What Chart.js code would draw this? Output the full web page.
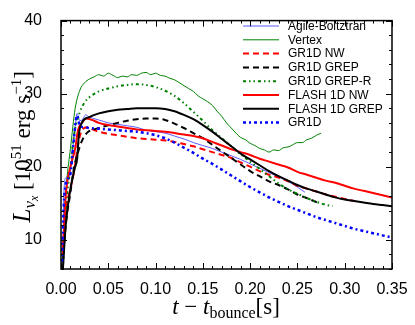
<!DOCTYPE html>
<html>
<head>
<meta charset="utf-8">
<script src="https://cdn.jsdelivr.net/npm/chart.js@4"></script>
<style>
    html, body { margin: 0; padding: 0; background: #fff; }
    #wrap { width: 415px; height: 325px; }
</style>
</head>
<body>
<div id="wrap"><canvas id="lumChart" width="415" height="325"></canvas></div>
<script>
// Axis ticks
const xTicks = [0, 0.05, 0.10, 0.15, 0.20, 0.25, 0.30, 0.35];
const yTicks = [10, 20, 30, 40];

// Agile-Boltztran
const tAgile = [0.002, 0.003, 0.005, 0.009, 0.012, 0.015, 0.017, 0.020, 0.023, 0.026, 0.030, 0.040, 0.050, 0.060, 0.070, 0.080, 0.090, 0.100, 0.110, 0.120, 0.130, 0.140, 0.150, 0.160, 0.170, 0.180, 0.190, 0.200, 0.210, 0.220, 0.230, 0.240, 0.250, 0.258];
const lAgile = [7, 16, 18.5, 18.8, 22, 25.5, 27.3, 26.3, 26.5, 27.1, 26.8, 26.4, 26.0, 25.8, 25.6, 25.4, 25.0, 24.8, 24.6, 24.2, 23.8, 23.3, 22.9, 22.5, 22.0, 21.5, 21.0, 20.4, 19.8, 19.2, 18.6, 18.0, 17.2, 16.5];

// Vertex
const tVertex = [0.002, 0.004, 0.006, 0.010, 0.015, 0.020, 0.025, 0.030, 0.035, 0.040, 0.045, 0.050, 0.055, 0.060, 0.065, 0.070, 0.075, 0.080, 0.085, 0.090, 0.095, 0.100, 0.105, 0.110, 0.115, 0.120, 0.125, 0.130, 0.135, 0.140, 0.145, 0.150, 0.155, 0.160, 0.165, 0.170, 0.175, 0.180, 0.185, 0.190, 0.195, 0.200, 0.205, 0.210, 0.215, 0.220, 0.225, 0.230, 0.235, 0.240, 0.245, 0.250, 0.255, 0.260, 0.265, 0.270, 0.275];
const lVertex = [6, 14, 18, 22.5, 28, 30.5, 31.5, 32.0, 32.3, 32.6, 32.4, 32.8, 32.5, 32.2, 32.4, 32.3, 32.6, 32.5, 32.8, 32.9, 32.6, 32.8, 32.5, 32.4, 32.1, 31.9, 31.5, 31.1, 30.7, 30.3, 29.7, 29.3, 28.9, 28.4, 27.6, 26.9, 26.0, 25.3, 24.6, 24.0, 23.7, 23.2, 22.9, 22.5, 22.3, 22.0, 22.3, 22.2, 22.6, 22.7, 23.0, 23.3, 23.3, 23.7, 23.9, 24.3, 24.6];

// GR1D NW
const tGr1dNw = [0.002, 0.005, 0.010, 0.014, 0.018, 0.022, 0.028, 0.035, 0.040, 0.050, 0.060, 0.070, 0.080, 0.090, 0.100, 0.110, 0.120, 0.130, 0.140, 0.150, 0.160, 0.170, 0.180, 0.190, 0.200, 0.210, 0.220, 0.230, 0.240, 0.250, 0.260, 0.270, 0.280, 0.290, 0.300, 0.310];
const lGr1dNw = [9, 14, 17, 19.5, 23, 25, 25.4, 25.0, 24.8, 24.5, 24.3, 24.1, 23.9, 23.8, 23.7, 23.6, 23.4, 23.1, 22.8, 22.4, 22.0, 21.6, 21.2, 20.6, 20.0, 19.4, 18.9, 18.5, 18.0, 17.4, 17.0, 16.6, 16.2, 15.9, 15.6, 15.3];

// GR1D GREP
const tGr1dGrep = [0.002, 0.005, 0.010, 0.014, 0.018, 0.022, 0.028, 0.035, 0.045, 0.060, 0.070, 0.080, 0.090, 0.100, 0.110, 0.120, 0.130, 0.140, 0.150, 0.160, 0.170, 0.180, 0.190, 0.200, 0.210, 0.220, 0.230, 0.240, 0.250, 0.260, 0.273];
const lGr1dGrep = [7, 12, 16.5, 20, 22, 23.5, 24.7, 25.1, 25.5, 26.0, 26.3, 26.5, 26.6, 26.6, 26.4, 25.9, 25.3, 24.6, 23.9, 23.0, 22.1, 21.2, 20.3, 19.4, 18.7, 18.0, 17.5, 16.9, 16.2, 15.7, 15.0];

// GR1D GREP-R
const tGr1dGrepR = [0.002, 0.005, 0.010, 0.014, 0.020, 0.025, 0.030, 0.040, 0.050, 0.060, 0.070, 0.080, 0.090, 0.100, 0.110, 0.120, 0.130, 0.140, 0.150, 0.160, 0.170, 0.180, 0.190, 0.200, 0.210, 0.220, 0.230, 0.240, 0.250, 0.260, 0.270, 0.280, 0.287];
const lGr1dGrepR = [6, 14, 20, 24.5, 27.5, 28.8, 29.5, 30.3, 30.7, 31.0, 31.2, 31.3, 31.2, 30.9, 30.4, 29.7, 28.7, 27.5, 26.3, 25.0, 23.9, 22.8, 21.7, 20.7, 19.7, 18.7, 17.7, 16.9, 16.3, 15.7, 15.2, 14.8, 14.6];

// FLASH 1D NW
const tFlashNw = [0.002, 0.005, 0.010, 0.015, 0.018, 0.022, 0.027, 0.035, 0.040, 0.050, 0.060, 0.070, 0.080, 0.090, 0.100, 0.110, 0.120, 0.130, 0.140, 0.150, 0.160, 0.170, 0.180, 0.190, 0.200, 0.210, 0.220, 0.230, 0.240, 0.250, 0.260, 0.270, 0.280, 0.290, 0.300, 0.310, 0.320, 0.330, 0.340, 0.350];
const lFlashNw = [8, 16, 20, 22.5, 25, 26, 26.6, 26.3, 26.0, 25.7, 25.5, 25.3, 25.1, 25.0, 24.9, 24.8, 24.6, 24.4, 24.2, 23.9, 23.4, 22.9, 22.4, 22.0, 21.6, 21.1, 20.7, 20.3, 19.9, 19.3, 18.9, 18.5, 18.1, 17.8, 17.4, 17.0, 16.7, 16.4, 16.1, 15.8];

// FLASH 1D GREP
const tFlashGrep = [0.002, 0.005, 0.010, 0.015, 0.017, 0.019, 0.022, 0.030, 0.040, 0.050, 0.060, 0.070, 0.080, 0.090, 0.100, 0.110, 0.120, 0.130, 0.140, 0.150, 0.160, 0.170, 0.180, 0.190, 0.200, 0.210, 0.220, 0.230, 0.240, 0.250, 0.260, 0.270, 0.280, 0.290, 0.300, 0.310, 0.320, 0.330, 0.340, 0.350];
const lFlashGrep = [6, 12, 17, 20, 21, 24.5, 26, 26.8, 27.3, 27.6, 27.8, 27.9, 28.0, 28.0, 28.0, 27.9, 27.6, 27.1, 26.5, 25.7, 24.8, 23.8, 22.8, 21.8, 21.0, 20.2, 19.4, 18.7, 18.1, 17.5, 17.0, 16.6, 16.2, 15.8, 15.5, 15.3, 15.1, 14.9, 14.75, 14.6];

// GR1D
const tGr1d = [0.001, 0.003, 0.006, 0.010, 0.013, 0.017, 0.020, 0.025, 0.030, 0.040, 0.050, 0.060, 0.070, 0.080, 0.090, 0.100, 0.110, 0.120, 0.130, 0.140, 0.150, 0.160, 0.170, 0.180, 0.190, 0.200, 0.210, 0.220, 0.230, 0.240, 0.250, 0.260, 0.270, 0.280, 0.290, 0.300, 0.310, 0.320, 0.330, 0.340, 0.350];
const lGr1d = [7, 15, 18, 19, 23, 27, 25.6, 25.4, 25.3, 25.2, 25.1, 25.0, 24.9, 24.8, 24.6, 24.3, 23.9, 23.3, 22.6, 21.9, 21.1, 20.4, 19.6, 18.8, 18.0, 17.2, 16.5, 15.8, 15.2, 14.6, 14.1, 13.6, 13.1, 12.7, 12.3, 11.9, 11.5, 11.2, 10.9, 10.6, 10.3];

document.addEventListener('DOMContentLoaded', function() {
    const pts = (t, l) => t.map((v, i) => ({ x: v, y: l[i] }));

    const series = [
        { label: 'Agile-Boltztran', data: pts(tAgile, lAgile), color: '#5a5aff', width: 1, dash: [] },
        { label: 'Vertex', data: pts(tVertex, lVertex), color: '#008000', width: 1, dash: [] },
        { label: 'GR1D NW', data: pts(tGr1dNw, lGr1dNw), color: '#ff0000', width: 2, dash: [6, 4] },
        { label: 'GR1D GREP', data: pts(tGr1dGrep, lGr1dGrep), color: '#000000', width: 2, dash: [6, 4] },
        { label: 'GR1D GREP-R', data: pts(tGr1dGrepR, lGr1dGrepR), color: '#008000', width: 2, dash: [3, 3, 1.5, 3, 1.5, 3] },
        { label: 'FLASH 1D NW', data: pts(tFlashNw, lFlashNw), color: '#ff0000', width: 2, dash: [] },
        { label: 'FLASH 1D GREP', data: pts(tFlashGrep, lFlashGrep), color: '#000000', width: 2, dash: [] },
        { label: 'GR1D', data: pts(tGr1d, lGr1d), color: '#0000ff', width: 2.5, dash: [3, 3, 2, 3] }
    ];

    // Frame, inward ticks, legend and axis titles
    const decorations = {
        id: 'decorations',
        afterDraw(chart) {
            const ctx = chart.ctx;
            const a = chart.chartArea;
            const xs = chart.scales.x, ys = chart.scales.y;
            ctx.save();
            ctx.strokeStyle = '#000';

            ctx.lineWidth = 1;
            const tick = (px, horiz, len) => {
                ctx.beginPath();
                if (horiz) {
                    ctx.moveTo(px, a.bottom); ctx.lineTo(px, a.bottom - len);
                    ctx.moveTo(px, a.top); ctx.lineTo(px, a.top + len);
                } else {
                    ctx.moveTo(a.left, px); ctx.lineTo(a.left + len, px);
                    ctx.moveTo(a.right, px); ctx.lineTo(a.right - len, px);
                }
                ctx.stroke();
            };
            for (let i = 0; i <= 35; i++) {
                const v = i / 100;
                tick(Math.round(xs.getPixelForValue(v)) + 0.5, true, i % 5 === 0 ? 6 : 3);
            }
            for (let v = 6; v <= 40; v += 2) {
                tick(Math.round(ys.getPixelForValue(v)) + 0.5, false, v % 10 === 0 ? 6 : 3);
            }

            ctx.lineWidth = 1.5;
            ctx.strokeRect(a.left, a.top, a.right - a.left, a.bottom - a.top);

            // legend
            ctx.font = '12px "Liberation Sans", Arial, sans-serif';
            ctx.textBaseline = 'middle';
            ctx.fillStyle = '#000';
            chart.data.datasets.forEach((ds, i) => {
                const y = 26 + i * 13.8;
                ctx.beginPath();
                ctx.strokeStyle = ds.borderColor;
                ctx.lineWidth = ds.borderWidth;
                ctx.setLineDash(ds.borderDash);
                ctx.moveTo(243, y); ctx.lineTo(279, y);
                ctx.stroke();
                ctx.setLineDash([]);
                ctx.fillText(ds.label, 288, y + 0.5);
            });

            // rich text helper: parts of [text, font, baseline shift]
            const drawParts = (parts, x, y) => {
                let cx = x;
                parts.forEach(p => {
                    ctx.font = p[1];
                    ctx.fillText(p[0], cx, y + p[2]);
                    cx += ctx.measureText(p[0]).width;
                });
            };
            const widthOf = parts => parts.reduce((s, p) => { ctx.font = p[1]; return s + ctx.measureText(p[0]).width; }, 0);
            const serif = '"Liberation Serif", "DejaVu Serif", serif';
            ctx.textBaseline = 'alphabetic';

            // y title
            const yParts = [
                ['L', 'italic 25px ' + serif, 0],
                ['ν', 'italic 17px ' + serif, 5],
                ['x', 'italic 12px ' + serif, 8],
                [' [10', '23px ' + serif, 0],
                ['51', '15px ' + serif, -9],
                [' erg s', '23px ' + serif, 0],
                ['−1', '15px ' + serif, -9],
                [']', '23px ' + serif, 0]
            ];
            ctx.save();
            ctx.translate(30, (a.top + a.bottom) / 2 + 2);
            ctx.rotate(-Math.PI / 2);
            drawParts(yParts, -widthOf(yParts) / 2, 0);
            ctx.restore();

            // x title
            const xParts = [
                ['t', 'italic 23px ' + serif, 0],
                [' − ', '23px ' + serif, 0],
                ['t', 'italic 23px ' + serif, 0],
                ['bounce', '16px ' + serif, 4],
                ['[s]', '23px ' + serif, 0]
            ];
            drawParts(xParts, 226 - widthOf(xParts) / 2, 314);
            ctx.restore();
        }
    };

    new Chart(document.getElementById('lumChart'), {
        type: 'line',
        data: {
            datasets: series.map((s, i) => ({
                label: s.label,
                data: s.data,
                borderColor: s.color,
                borderWidth: s.width,
                borderDash: s.dash,
                pointRadius: 0,
                fill: false,
                cubicInterpolationMode: 'monotone',
                order: series.length - i
            }))
        },
        options: {
            responsive: false,
            animation: false,
            devicePixelRatio: 1,
            layout: { padding: { top: 12, right: 23, left: 0, bottom: 0 } },
            plugins: { legend: { display: false }, tooltip: { enabled: false } },
            scales: {
                x: {
                    type: 'linear',
                    min: 0,
                    max: 0.35,
                    grid: { display: false },
                    border: { display: false },
                    afterBuildTicks: axis => { axis.ticks = xTicks.map(v => ({ value: v })); },
                    afterFit: axis => { axis.height = 56; },
                    ticks: {
                        color: '#000',
                        padding: 3,
                        maxRotation: 0,
                        font: { family: '"Liberation Sans", Arial, sans-serif', size: 16 },
                        callback: v => v.toFixed(2)
                    }
                },
                y: {
                    min: 6,
                    max: 40,
                    grid: { display: false },
                    border: { display: false },
                    afterBuildTicks: axis => { axis.ticks = yTicks.map(v => ({ value: v })); },
                    afterFit: axis => { axis.width = 61; },
                    ticks: {
                        color: '#000',
                        padding: 11,
                        font: { family: '"Liberation Sans", Arial, sans-serif', size: 16 }
                    }
                }
            }
        },
        plugins: [decorations]
    });
});
</script>
</body>
</html>
